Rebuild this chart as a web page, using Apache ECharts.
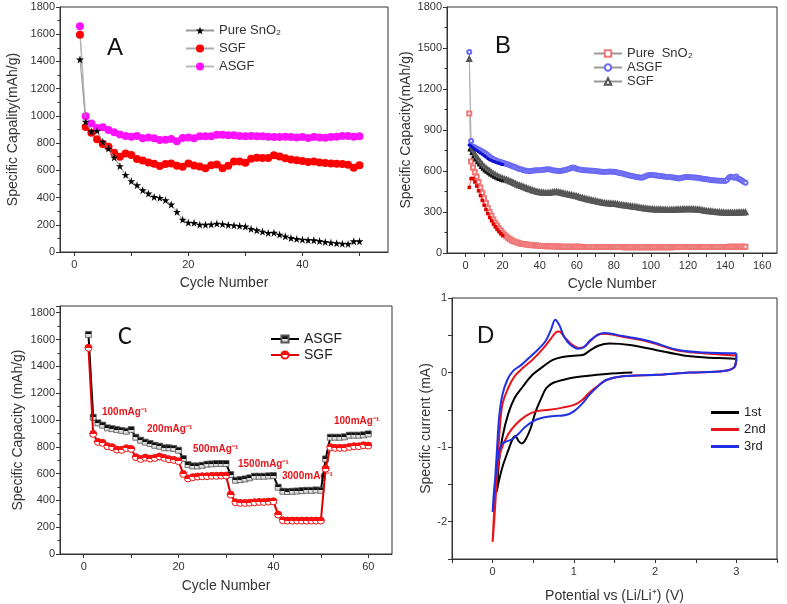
<!DOCTYPE html>
<html><head><meta charset="utf-8">
<script src="https://cdn.jsdelivr.net/npm/echarts@6/dist/echarts.min.js"></script>
<style>html,body{margin:0;padding:0;background:#fff}#c{width:787px;height:604px}</style>
</head><body><div id="c"></div>
<script>
// ---------- Panel A (cycles 1..50) ----------
const aPure = [1415,958,885,890,810,760,695,631,567,521,491,454,430,405,398,381,349,295,238,216,214,201,201,203,209,205,199,196,192,187,170,160,150,140,142,128,115,103,96,91,88,86,81,74,69,64,61,59,79,79];
const aSGF = [1596,918,877,828,793,774,729,700,724,712,683,673,658,648,631,646,651,634,626,651,636,629,616,638,643,616,634,665,665,656,685,693,690,690,710,702,688,680,675,668,661,665,658,653,651,648,646,641,619,638];
const aASGF = [1658,997,945,911,916,896,879,864,852,847,852,835,842,835,823,825,830,813,837,842,835,850,850,850,862,862,857,857,852,850,852,850,850,847,845,845,847,845,842,845,837,845,842,840,845,847,852,852,847,850];

// ---------- Panel B (cycles 2..151) ----------
const bASGF = [1470,820,780,772,765,758,750,742,735,726,716,705,695,686,680,674,669,665,661,657,652,647,642,637,632,627,620,615,612,608,604,601,600,600,602,604,605,606,605,607,609,611,612,612,609,606,603,601,600,600,602,605,608,612,617,622,625,622,615,612,610,608,606,605,604,603,602,601,600,598,596,595,594,593,594,595,596,595,595,592,589,586,583,580,576,572,568,565,563,560,557,554,552,551,555,562,567,570,571,570,569,567,565,563,561,559,558,557,556,554,552,550,548,546,548,551,554,556,556,555,554,553,552,551,549,546,543,541,539,537,535,533,532,531,530,529,528,528,527,535,550,558,555,551,560,546,540,531,522,514];
const bSGF = [1420,770,745,722,700,682,665,648,632,620,610,601,590,580,572,564,557,550,545,540,536,531,525,520,513,506,499,494,490,485,479,474,469,465,460,455,451,447,445,443,441,440,440,440,442,444,446,446,445,442,439,435,432,430,427,424,421,418,415,411,407,403,399,395,392,389,386,383,380,377,374,371,368,365,364,363,362,361,360,358,356,354,352,350,348,346,344,342,340,338,336,334,332,330,328,326,324,322,320,320,319,319,318,318,317,316,316,315,315,316,316,317,318,318,319,320,320,321,321,321,320,320,319,318,316,314,312,310,308,306,305,303,301,300,299,298,297,296,295,295,294,294,295,295,295,296,296,297,297,298];
const bPure = [1020,670,625,590,558,520,480,440,400,365,330,300,272,246,222,201,182,164,148,133,120,109,100,92,86,80,76,72,68,66,64,62,60,58,57,56,55,54,52,51,51,50,50,49,49,48,48,47,47,47,46,46,46,46,45,45,45,45,45,45,45,44,44,44,44,44,44,44,44,44,44,43,43,43,43,43,43,43,43,43,43,43,43,42,42,42,42,42,42,42,42,42,42,42,42,42,42,42,42,42,42,42,42,42,42,42,42,42,42,42,42,43,43,43,43,43,43,43,43,43,43,43,43,43,43,43,43,44,44,44,44,44,44,44,44,44,44,44,44,44,45,45,45,45,45,45,45,45,45,45];
// early discharge points (filled markers), cycles 2..20
const bASGFd = [790,782,770,760,750,740,732,722,712,702,692,683,676,670,665,660,656,652,648];
const bSGFd = [755,730,705,682,662,645,628,614,602,592,582,573,565,557,550,544,539,534,530];
const bPured = [480,545,545,520,490,455,420,385,350,318,288,260,236,212,192,173,156,141,128];

// ---------- Panel C (cycles 1..60) ----------
const cASGF = [1638,1020,978,961,941,935,928,922,916,928,871,849,834,824,811,804,792,792,787,774,712,667,657,657,662,670,672,675,675,675,592,550,555,560,568,580,580,580,583,585,498,468,466,468,470,473,475,475,478,475,709,871,871,871,874,886,886,886,889,896];
const cSGF = [1538,896,836,829,804,797,779,777,789,784,722,709,719,712,717,727,717,707,702,692,597,563,573,578,580,580,583,583,585,585,443,386,381,381,383,386,388,388,391,393,294,251,249,249,249,249,249,249,249,249,637,797,792,792,792,799,804,804,811,809];
const cRates = ['100mAg⁻¹','200mAg⁻¹','500mAg⁻¹','1500mAg⁻¹','3000mAg⁻¹','100mAg⁻¹'];

// ---------- Panel D (CV curves: [V, mA]) ----------
const cv1 = [[1.72,0],[1.40,-0.02],[1.0,-0.066],[0.86,-0.10],[0.74,-0.14],[0.66,-0.21],[0.60,-0.34],[0.53,-0.52],[0.47,-0.74],[0.41,-0.89],[0.36,-0.95],[0.32,-0.92],[0.28,-0.85],[0.25,-0.88],[0.19,-1.05],[0.12,-1.27],[0.07,-1.49],[0.05,-1.6],[0.06,-1.45],[0.08,-1.18],[0.12,-0.87],[0.19,-0.56],[0.27,-0.34],[0.37,-0.19],[0.49,-0.03],[0.62,0.08],[0.74,0.17],[0.86,0.21],[1.0,0.226],[1.11,0.235],[1.19,0.29],[1.30,0.36],[1.44,0.39],[1.69,0.37],[2.02,0.30],[2.35,0.23],[2.67,0.20],[2.92,0.19],[3.0,0.17],[2.98,0.08]];
const cv2 = [[3.0,0.23],[2.98,0.08],[2.84,0.02],[2.43,0.0],[2.02,-0.03],[1.60,-0.05],[1.40,-0.10],[1.28,-0.19],[1.19,-0.27],[1.11,-0.36],[1.01,-0.43],[0.86,-0.47],[0.70,-0.50],[0.53,-0.52],[0.41,-0.58],[0.29,-0.69],[0.19,-0.83],[0.10,-1.05],[0.06,-1.31],[0.03,-1.67],[0.0,-2.27],[0.02,-1.98],[0.05,-1.45],[0.08,-0.87],[0.12,-0.43],[0.19,-0.21],[0.27,-0.05],[0.37,0.06],[0.49,0.17],[0.62,0.32],[0.72,0.46],[0.78,0.54],[0.82,0.55],[0.88,0.48],[0.97,0.38],[1.06,0.33],[1.13,0.345],[1.21,0.43],[1.30,0.51],[1.38,0.52],[1.60,0.48],[1.93,0.41],[2.26,0.30],[2.59,0.26],[3.0,0.23]];
const cv3 = [[3.0,0.26],[2.98,0.08],[2.84,0.02],[2.43,0.0],[2.02,-0.03],[1.60,-0.05],[1.40,-0.10],[1.28,-0.20],[1.19,-0.30],[1.10,-0.42],[1.0,-0.52],[0.90,-0.57],[0.80,-0.58],[0.70,-0.59],[0.60,-0.61],[0.50,-0.65],[0.40,-0.73],[0.32,-0.82],[0.25,-0.89],[0.18,-0.92],[0.12,-0.95],[0.08,-1.05],[0.05,-1.25],[0.02,-1.55],[0.0,-1.87],[0.02,-1.6],[0.05,-1.1],[0.08,-0.6],[0.12,-0.3],[0.18,-0.1],[0.25,0.02],[0.35,0.1],[0.45,0.2],[0.55,0.3],[0.65,0.42],[0.72,0.58],[0.77,0.71],[0.82,0.64],[0.88,0.48],[0.95,0.38],[1.05,0.32],[1.12,0.34],[1.20,0.43],[1.30,0.51],[1.38,0.53],[1.60,0.49],[1.93,0.42],[2.26,0.31],[2.59,0.27],[3.0,0.26]];

// ---------- build ----------
const pairs = (start, arr) => arr.map((v, i) => [start + i, v]);
const FONT = 'Liberation Sans, Arial, sans-serif';
const AX = '#333';
const STAR = 'path://M50,0 L61,35 L98,35 L68,57 L79,91 L50,70 L21,91 L32,57 L2,35 L39,35 Z';
const plain = v => String(v);
const intOnly = v => (Math.abs(v - Math.round(v)) < 1e-6 ? String(Math.round(v)) : '');
function half(top, bottom) {
  return {type:'linear', x:0, y:0, x2:0, y2:1, colorStops:[{offset:0,color:top},{offset:0.5,color:top},{offset:0.5,color:bottom},{offset:1,color:bottom}]};
}
function lab(extra) {
  return Object.assign({color: '#333', fontSize: 11, fontFamily: FONT, margin: 5, formatter: plain}, extra);
}
function baseAxis(extra) {
  return Object.assign({
    type: 'value',
    axisLine: {show: true, onZero: false, lineStyle: {color: AX, width: 1}},
    axisTick: {show: true, inside: false, length: 4, lineStyle: {color: AX}},
    minorTick: {show: false},
    axisLabel: lab({}),
    splitLine: {show: false},
    nameLocation: 'middle',
    nameTextStyle: {color: '#333', fontSize: 14, fontFamily: FONT}
  }, extra);
}
const gridStyle = {show: true, borderColor: AX, borderWidth: 1, backgroundColor: 'transparent', containLabel: false};
const minor = {show: true, splitNumber: 2, length: 2.5, lineStyle: {color: AX}};

const option = {
  animation: false,
  backgroundColor: '#fff',
  grid: [
    Object.assign({left: 60, top: 7, width: 328, height: 245}, gridStyle),
    Object.assign({left: 447, top: 7, width: 330, height: 246}, gridStyle),
    Object.assign({left: 60, top: 306, width: 332, height: 248}, gridStyle),
    Object.assign({left: 452, top: 298, width: 325, height: 264}, gridStyle)
  ],
  xAxis: [
    baseAxis({gridIndex: 0, min: -2.5, max: 55, name: 'Cycle Number', nameGap: 24,
      axisTick: {show: true, length: 4, lineStyle: {color: AX}, customValues: [0,10,20,30,40,50]},
      axisLabel: lab({margin: 7, customValues: [0,20,40]})}),
    baseAxis({gridIndex: 1, min: -10, max: 168, name: 'Cycle Number', nameGap: 24,
      axisTick: {show: true, length: 4, lineStyle: {color: AX}, customValues: [0,10,20,30,40,50,60,70,80,90,100,110,120,130,140,150,160]},
      axisLabel: lab({margin: 7, customValues: [0,20,40,60,80,100,120,140,160]})}),
    baseAxis({gridIndex: 2, min: -5, max: 65, name: 'Cycle Number', nameGap: 25,
      axisTick: {show: true, length: 4, lineStyle: {color: AX}, customValues: [0,10,20,30,40,50,60]},
      axisLabel: lab({margin: 7, customValues: [0,20,40,60]})}),
    baseAxis({gridIndex: 3, min: -0.5, max: 3.5, interval: 0.5, name: 'Potential vs (Li/Li⁺) (V)', nameGap: 30,
      axisLabel: lab({margin: 7, formatter: intOnly})})
  ],
  yAxis: [
    baseAxis({gridIndex: 0, min: 0, max: 1800, interval: 200, name: 'Specific Capality(mAh/g)', nameGap: 40, minorTick: minor}),
    baseAxis({gridIndex: 1, min: 0, max: 1800, interval: 300, name: 'Specific Capacity(mAh/g)', nameGap: 33, minorTick: minor}),
    baseAxis({gridIndex: 2, min: 0, max: 1850, interval: 200, name: 'Specific Capacity (mAh/g)', nameGap: 35, minorTick: minor,
      axisLabel: lab({formatter: v => (v % 200 === 0 ? String(v) : '')})}),
    baseAxis({gridIndex: 3, min: -2.5, max: 1, interval: 0.5, name: 'Specific current (mA)', nameGap: 18,
      axisLabel: lab({formatter: intOnly})})
  ],
  legend: [
    {left: 180, top: 19, padding: 5, orient: 'vertical', itemWidth: 28, itemHeight: 10, itemGap: 5,
      textStyle: {fontSize: 13, fontFamily: FONT, color: '#333'},
      data: ['Pure SnO₂', 'SGF', 'ASGF'], selectedMode: false},
    {left: 588, top: 42, padding: 5, orient: 'vertical', itemWidth: 28, itemHeight: 8, itemGap: 1,
      textStyle: {fontSize: 13, fontFamily: FONT, color: '#333'},
      data: ['Pure  SnO₂ ', 'ASGF ', 'SGF '], selectedMode: false},
    {left: 265, top: 327, padding: 5, orient: 'vertical', itemWidth: 28, itemHeight: 9, itemGap: 2,
      textStyle: {fontSize: 14, fontFamily: FONT, color: '#222'},
      data: ['ASGF  ', 'SGF  '], selectedMode: false},
    {left: 706, top: 401, padding: 5, orient: 'vertical', itemWidth: 28, itemHeight: 3, itemGap: 4, icon: 'rect',
      textStyle: {fontSize: 13, fontFamily: FONT, color: '#222'},
      data: ['1st', '2nd', '3rd'], selectedMode: false}
  ],
  graphic: [
    {type: 'text', left: 107, top: 36, style: {text: 'A', font: '24px ' + FONT, fill: '#111'}},
    {type: 'text', left: 495, top: 34, style: {text: 'B', font: '24px ' + FONT, fill: '#111'}},
    {type: 'text', left: 118, top: 324, style: {text: 'C', font: '26px Carlito, Calibri, ' + FONT, fill: '#111'}},
    {type: 'text', left: 477, top: 324, style: {text: 'D', font: '24px ' + FONT, fill: '#111'}},
    {type: 'text', left: 102, top: 407, style: {text: cRates[0], font: 'bold 10px ' + FONT, fill: '#e8141a'}},
    {type: 'text', left: 147, top: 424, style: {text: cRates[1], font: 'bold 10px ' + FONT, fill: '#e8141a'}},
    {type: 'text', left: 193, top: 444, style: {text: cRates[2], font: 'bold 10px ' + FONT, fill: '#e8141a'}},
    {type: 'text', left: 238, top: 459, style: {text: cRates[3], font: 'bold 10px ' + FONT, fill: '#e8141a'}},
    {type: 'text', left: 282, top: 471, style: {text: cRates[4], font: 'bold 10px ' + FONT, fill: '#e8141a'}},
    {type: 'text', left: 334, top: 416, style: {text: cRates[5], font: 'bold 10px ' + FONT, fill: '#e8141a'}}
  ],
  series: [
    // A
    {name: 'Pure SnO₂', type: 'line', xAxisIndex: 0, yAxisIndex: 0, data: pairs(1, aPure),
      symbol: STAR, symbolSize: 8, itemStyle: {color: '#000'}, lineStyle: {color: '#999', width: 1}, z: 3},
    {name: 'SGF', type: 'line', xAxisIndex: 0, yAxisIndex: 0, data: pairs(1, aSGF),
      symbol: 'circle', symbolSize: 8, itemStyle: {color: '#ff0000'}, lineStyle: {color: '#aaa', width: 1}, z: 2},
    {name: 'ASGF', type: 'line', xAxisIndex: 0, yAxisIndex: 0, data: pairs(1, aASGF),
      symbol: 'circle', symbolSize: 8, itemStyle: {color: '#ff10ff'}, lineStyle: {color: '#bbb', width: 1}, z: 2},
    // B
    {name: 'Pure  SnO₂ ', type: 'line', xAxisIndex: 1, yAxisIndex: 1, data: pairs(2, bPure),
      symbol: 'emptyRect', symbolSize: 4, itemStyle: {color: '#f07878', borderWidth: 0.8}, lineStyle: {color: '#999', width: 0.6}},
    {name: 'ASGF ', type: 'line', xAxisIndex: 1, yAxisIndex: 1, data: pairs(2, bASGF),
      symbol: 'emptyCircle', symbolSize: 4, itemStyle: {color: '#6a6af5', borderWidth: 0.8}, lineStyle: {color: '#999', width: 0.6}},
    {name: 'SGF ', type: 'line', xAxisIndex: 1, yAxisIndex: 1, data: pairs(2, bSGF),
      symbol: 'emptyTriangle', symbolSize: 4, itemStyle: {color: '#555', borderWidth: 0.8}, lineStyle: {color: '#999', width: 0.6}},
    {name: 'Pd', type: 'line', xAxisIndex: 1, yAxisIndex: 1, data: pairs(2, bPured),
      symbol: 'rect', symbolSize: 3.5, itemStyle: {color: '#e00000'}, lineStyle: {color: '#e00000', width: 0.6}},
    {name: 'Ad', type: 'line', xAxisIndex: 1, yAxisIndex: 1, data: pairs(2, bASGFd),
      symbol: 'circle', symbolSize: 3.5, itemStyle: {color: '#1010d0'}, lineStyle: {color: '#1010d0', width: 0.6}},
    {name: 'Sd', type: 'line', xAxisIndex: 1, yAxisIndex: 1, data: pairs(2, bSGFd),
      symbol: 'triangle', symbolSize: 3.5, itemStyle: {color: '#111'}, lineStyle: {color: '#111', width: 0.6}},
    // C
    {name: 'ASGF  ', type: 'line', xAxisIndex: 2, yAxisIndex: 2, data: pairs(1, cASGF),
      symbol: 'rect', symbolSize: 6, itemStyle: {color: half('#111', '#ddd'), borderColor: '#555', borderWidth: 0.8},
      lineStyle: {color: '#000', width: 2}, z: 2},
    {name: 'SGF  ', type: 'line', xAxisIndex: 2, yAxisIndex: 2, data: pairs(1, cSGF),
      symbol: 'circle', symbolSize: 7, itemStyle: {color: half('#ff1010', '#fff'), borderColor: '#ee1010', borderWidth: 1},
      lineStyle: {color: '#e00000', width: 2}, z: 3},
    // D
    {name: '1st', type: 'line', xAxisIndex: 3, yAxisIndex: 3, data: cv1, symbol: 'none', smooth: 0.35,
      lineStyle: {color: '#000', width: 2}, itemStyle: {color: '#000'}},
    {name: '2nd', type: 'line', xAxisIndex: 3, yAxisIndex: 3, data: cv2, symbol: 'none', smooth: 0.35,
      lineStyle: {color: '#e8141a', width: 2}, itemStyle: {color: '#e8141a'}},
    {name: '3rd', type: 'line', xAxisIndex: 3, yAxisIndex: 3, data: cv3, symbol: 'none', smooth: 0.35,
      lineStyle: {color: '#1f30e6', width: 2}, itemStyle: {color: '#1f30e6'}}
  ]
};
const chart = echarts.init(document.getElementById('c'), null, {renderer: 'canvas'});
chart.setOption(option);
</script>
</body></html>
